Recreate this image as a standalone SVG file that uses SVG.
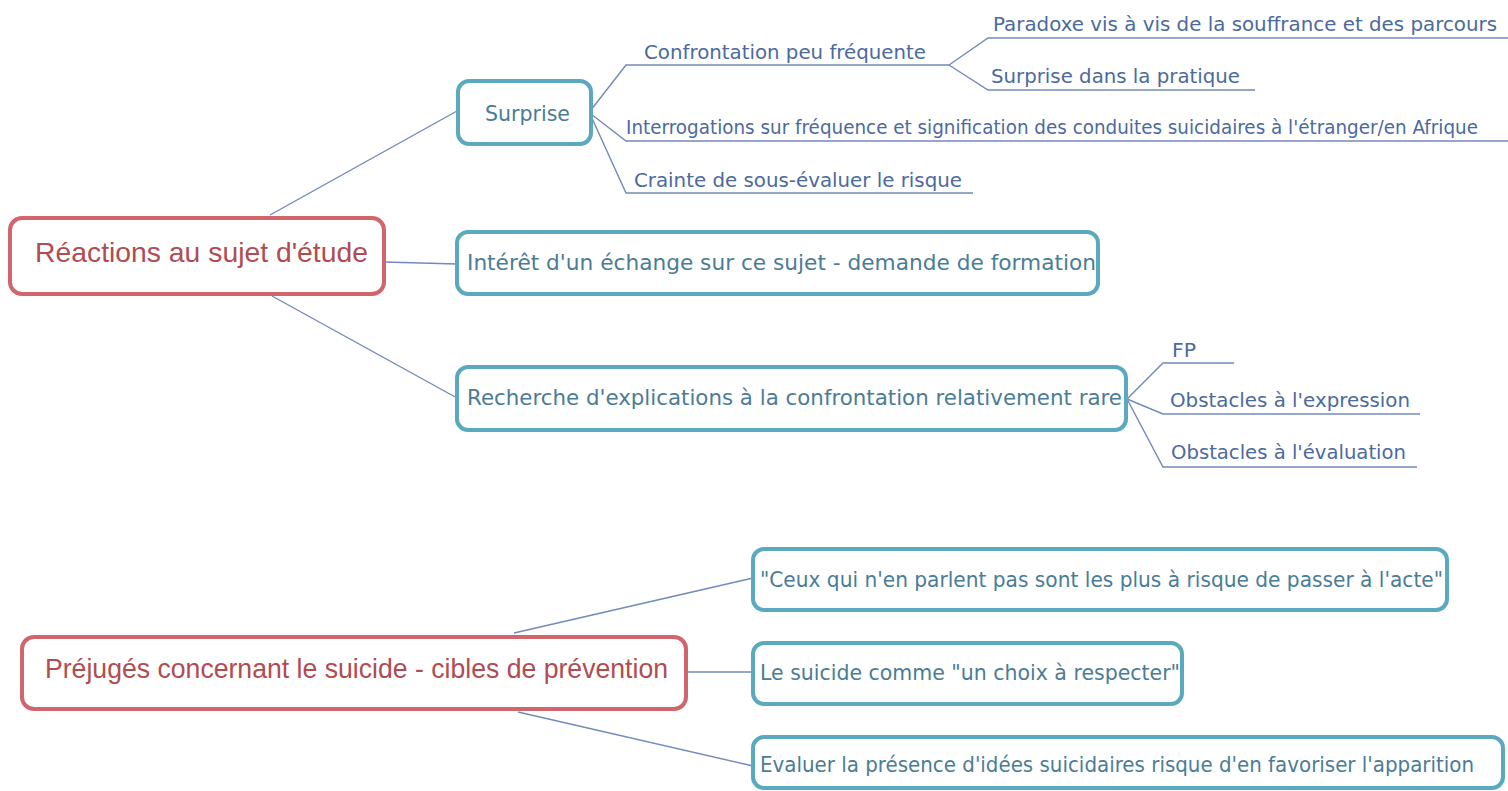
<svg xmlns="http://www.w3.org/2000/svg" width="1508" height="791" viewBox="0 0 1508 791">
<style>
.root{fill:#fff;stroke:#D0666B;stroke-width:4}
.box{fill:#fff;stroke:#5AA9BF;stroke-width:4}
.rt{font-family:"Liberation Sans",Arial,sans-serif;font-size:28px;fill:#B04C52}
.bt{font-family:"DejaVu Sans",Verdana,sans-serif;font-size:21px;fill:#4A7C96}
.lt{font-family:"DejaVu Sans",Verdana,sans-serif;font-size:19px;fill:#4B6A9E}
.ln{fill:none;stroke:#7189BB;stroke-width:1.4}
</style>
<rect width="1508" height="791" fill="#fff"/>
<g id="connectors">
<path class="ln" d="M270,215 L457,111"/>
<path class="ln" d="M384,262 L457,264"/>
<path class="ln" d="M272,296 L457,398"/>
<path class="ln" d="M591,110 L626,65 L949,65"/>
<path class="ln" d="M591,114 L626,141 L1508,141"/>
<path class="ln" d="M591,116 L626,193 L973,193"/>
<path class="ln" d="M949,65 L988,38 L1508,38"/>
<path class="ln" d="M949,65 L988,90 L1255,90"/>
<path class="ln" d="M1127,399 L1163,363 L1234,363"/>
<path class="ln" d="M1127,399 L1163,414 L1420,414"/>
<path class="ln" d="M1127,399 L1163,467 L1417,467"/>
<path class="ln" d="M514,633 L753,578"/>
<path class="ln" d="M686,672 L753,672"/>
<path class="ln" d="M518,712 L753,766"/>
</g>
<g id="n-reactions">
<rect class="root" x="10" y="218" width="374" height="76" rx="12"/>
<text class="rt" x="35" y="262" textLength="333" lengthAdjust="spacingAndGlyphs">Réactions au sujet d'étude</text>
</g>
<g id="n-surprise">
<rect class="box" x="458" y="81" width="133" height="63" rx="11"/>
<text class="bt" x="485" y="121" textLength="85" lengthAdjust="spacingAndGlyphs">Surprise</text>
</g>
<g id="n-confrontation">
<text class="lt" x="644" y="59" textLength="282" lengthAdjust="spacingAndGlyphs">Confrontation peu fréquente</text>
</g>
<g id="n-paradoxe">
<text class="lt" x="993" y="31" textLength="504" lengthAdjust="spacingAndGlyphs">Paradoxe vis à vis de la souffrance et des parcours</text>
</g>
<g id="n-surprise-pratique">
<text class="lt" x="991" y="83" textLength="249" lengthAdjust="spacingAndGlyphs">Surprise dans la pratique</text>
</g>
<g id="n-interrogations">
<text class="lt" x="626" y="134" textLength="852" lengthAdjust="spacingAndGlyphs">Interrogations sur fréquence et signification des conduites suicidaires à l'étranger/en Afrique</text>
</g>
<g id="n-crainte">
<text class="lt" x="634" y="187" textLength="328" lengthAdjust="spacingAndGlyphs">Crainte de sous-évaluer le risque</text>
</g>
<g id="n-interet">
<rect class="box" x="457" y="232" width="641" height="62" rx="11"/>
<text class="bt" x="467" y="270" textLength="629" lengthAdjust="spacingAndGlyphs">Intérêt d'un échange sur ce sujet - demande de formation</text>
</g>
<g id="n-recherche">
<rect class="box" x="457" y="367" width="669" height="63" rx="11"/>
<text class="bt" x="467" y="405" textLength="655" lengthAdjust="spacingAndGlyphs">Recherche d'explications à la confrontation relativement rare</text>
</g>
<g id="n-fp">
<text class="lt" x="1172" y="357" textLength="24" lengthAdjust="spacingAndGlyphs">FP</text>
</g>
<g id="n-obstacles-expression">
<text class="lt" x="1170" y="407" textLength="240" lengthAdjust="spacingAndGlyphs">Obstacles à l'expression</text>
</g>
<g id="n-obstacles-evaluation">
<text class="lt" x="1171" y="459" textLength="235" lengthAdjust="spacingAndGlyphs">Obstacles à l'évaluation</text>
</g>
<g id="n-prejuges">
<rect class="root" x="22" y="637" width="664" height="72" rx="12"/>
<text class="rt" x="45" y="678" font-size="26" textLength="623" lengthAdjust="spacingAndGlyphs">Préjugés concernant le suicide - cibles de prévention</text>
</g>
<g id="n-ceux">
<rect class="box" x="753" y="549" width="694" height="61" rx="11"/>
<text class="bt" x="760" y="587" textLength="683" lengthAdjust="spacingAndGlyphs">"Ceux qui n'en parlent pas sont les plus à risque de passer à l'acte"</text>
</g>
<g id="n-choix">
<rect class="box" x="753" y="643" width="429" height="61" rx="11"/>
<text class="bt" x="760" y="680" textLength="420" lengthAdjust="spacingAndGlyphs">Le suicide comme "un choix à respecter"</text>
</g>
<g id="n-evaluer">
<rect class="box" x="753" y="737" width="750" height="51" rx="11"/>
<text class="bt" x="760" y="772" font-size="20" textLength="714" lengthAdjust="spacingAndGlyphs">Evaluer la présence d'idées suicidaires risque d'en favoriser l'apparition</text>
</g>
</svg>
